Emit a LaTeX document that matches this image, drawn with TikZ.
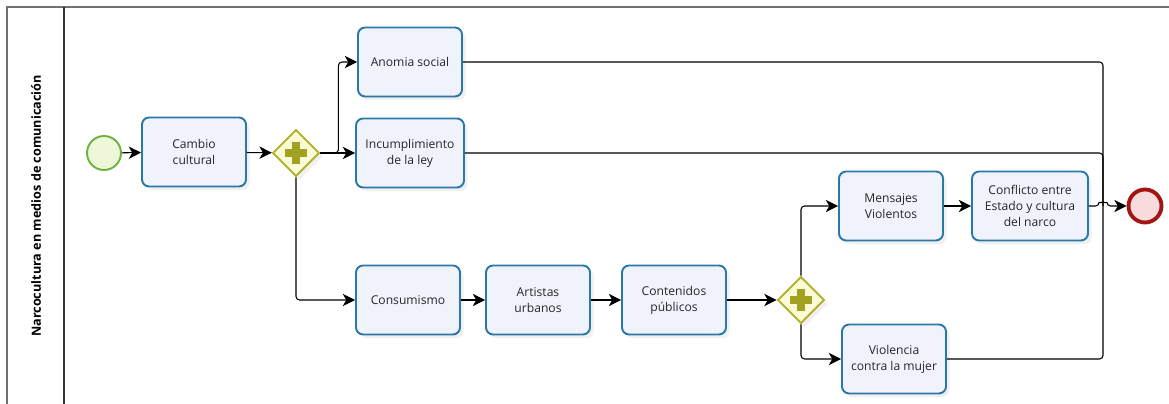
\documentclass[tikz,border=0pt]{standalone}
\usepackage{fontspec}
\setmainfont{Open Sans}
\usetikzlibrary{shapes.geometric}
\usetikzlibrary{arrows.meta}
\usetikzlibrary{shadows}

\definecolor{taskline}{HTML}{2A78A8}
\definecolor{taskfill}{HTML}{F0F3FC}
\definecolor{gateline}{HTML}{B2B232}
\definecolor{gatefill}{HTML}{FAFAD6}
\definecolor{gateplus}{HTML}{A2A222}
\definecolor{startline}{HTML}{6DB33F}
\definecolor{startfill}{HTML}{EEF8D8}
\definecolor{endline}{HTML}{A31515}
\definecolor{endfill}{HTML}{F8DCDC}
\definecolor{poolline}{HTML}{707070}

\tikzset{
  task/.style={draw=taskline, fill=taskfill, line width=1.1pt, rounded corners=4pt,
    minimum width=2.08cm, minimum height=1.38cm, align=center, text=black!85,
    font=\fontsize{6.9}{9}\selectfont,
    drop shadow={opacity=0.12, shadow xshift=2pt, shadow yshift=-2pt}},
  gateway/.style={diamond, draw=gateline, fill=gatefill, line width=1.1pt,
    minimum size=0.94cm, inner sep=0pt,
    drop shadow={opacity=0.12, shadow xshift=2pt, shadow yshift=-2pt}},
  plusbar/.style={draw=gateplus, line width=4.2pt},
  startev/.style={circle, draw=startline, fill=startfill, line width=1.1pt, minimum size=0.68cm, inner sep=0pt},
  endev/.style={circle, draw=endline, fill=endfill, line width=2.2pt, minimum size=0.66cm, inner sep=0pt},
  flow/.style={-{Stealth[length=7pt,width=7pt,inset=2pt]}, line width=0.6pt, rounded corners=2pt},
  mergeline/.style={line width=0.6pt, rounded corners=2pt}
}

\newcommand{\gplus}[1]{%
  \draw[plusbar] ([xshift=-0.22cm]#1.center) -- ([xshift=0.22cm]#1.center);
  \draw[plusbar] ([yshift=-0.22cm]#1.center) -- ([yshift=0.22cm]#1.center);}

\begin{document}
\begin{tikzpicture}[x=0.02cm, y=-0.02cm]
  \useasboundingbox (0,0) rectangle (1169,404);

  %Pool and lane
  \draw[poolline, line width=1.1pt] (7,404) -- (7,7) -- (1169,7);
  \draw[black!80, line width=0.8pt] (64,7) -- (64,404);
  \node[rotate=90, font=\bfseries\fontsize{7.2}{9}\selectfont] (lane) at (36,206) {Narcocultura en medios de comunicación};

  %Start and first gateway
  \node[startev] (inicio) at (104,153) {};
  \node[task] (cambio) at (194,152) {Cambio\\cultural};
  \node[gateway] (g1) at (296,153) {};
  \gplus{g1}

  %Upper branch
  \node[task] (anomia) at (410,62) {Anomia social};
  \node[task, minimum width=2.16cm] (incumple) at (410,153) {Incumplimiento\\de la ley};

  %Lower branch
  \node[task] (consumo) at (408,300) {Consumismo};
  \node[task] (artistas) at (538,300) {Artistas\\urbanos};
  \node[task] (contenidos) at (674,300) {Contenidos\\públicos};
  \node[gateway] (g2) at (801,300) {};
  \gplus{g2}
  \node[task] (mensajes) at (891,206) {Mensajes\\Violentos};
  \node[task, minimum width=2.32cm] (conflicto) at (1030,206) {Conflicto entre\\Estado y cultura\\del narco};
  \node[task] (violencia) at (894,359) {Violencia\\contra la mujer};

  %End
  \node[endev] (fin) at (1145,206) {};
  \coordinate (jn) at (1103,206);

  %Flows
  \draw[flow] (inicio) -- (cambio);
  \draw[flow] (cambio) -- (g1);
  \draw[flow] (g1.east) -- ++(0.36cm,0) |- (anomia.west);
  \draw[flow] (g1.east) -- (incumple.west);
  \draw[flow] (g1.south) |- (consumo.west);
  \draw[flow] (consumo) -- (artistas);
  \draw[flow] (artistas) -- (contenidos);
  \draw[flow] (contenidos) -- (g2);
  \draw[flow] (g2.north) |- (mensajes.west);
  \draw[flow] (g2.south) |- (violencia.west);
  \draw[flow] (mensajes) -- (conflicto);
  \draw[mergeline] (anomia.east) -| (jn);
  \draw[mergeline] (incumple.east) -| (jn);
  \draw[mergeline] (violencia.east) -| (jn);
  \draw[flow] (conflicto.east) -- ([xshift=-0.08cm]jn) arc[start angle=180, end angle=0, radius=0.08cm] -- (fin.west);
\end{tikzpicture}
\end{document}
